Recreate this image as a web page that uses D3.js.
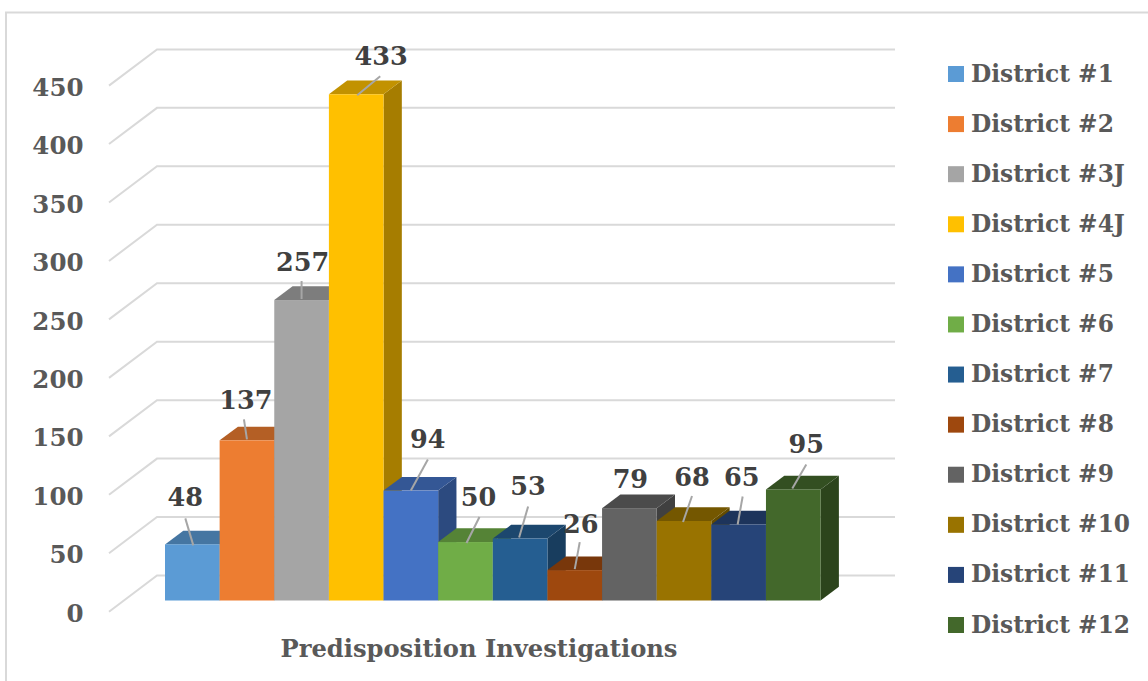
<!DOCTYPE html>
<html>
<head>
<meta charset="utf-8">
<script src="https://cdn.jsdelivr.net/npm/d3@7"></script>
<style>
html,body{margin:0;padding:0;background:#fff}
svg{display:block}
text{font-family:"DejaVu Serif",serif;font-weight:bold}
</style>
</head>
<body>
<div></div>
<script>
const districts = ["District #1","District #2","District #3J","District #4J","District #5","District #6","District #7","District #8","District #9","District #10","District #11","District #12"]
const investigations = [48,137,257,433,94,50,53,26,79,68,65,95]
const barColors = ["#5B9BD5","#ED7D31","#A5A5A5","#FFC000","#4472C4","#70AD47","#255E91","#9E480E","#636363","#997300","#264478","#43682B"]
const yTicks = [0,50,100,150,200,250,300,350,400,450]
const axisTitle = "Predisposition Investigations"

//screen setting (fixed)
const svgWidth = 1148
const svgHeight = 681
const svg = d3.select("div").append("svg").attr("width",svgWidth).attr("height",svgHeight)

function translate(x,y){return `translate(${x}, ${y})`}
function shade(color,k){
    const c = d3.rgb(color)
    return d3.rgb(c.r*k,c.g*k,c.b*k).formatHex()
}
function poly(points){return points.map(p=>p.join(",")).join(" ")}

//chart frame, open on the right and at the bottom
svg.append("path")
    .attr("d","M6,681V12.5H1148")
    .attr("fill","none").attr("stroke","#d9d9d9").attr("stroke-width",2)

const xScale = d3.scaleBand().domain(districts).range([165,820.6])
const yScale = d3.scaleLinear().domain([0,450]).range([600.5,74.4])

//depth of the bars and of the wall behind them
const barDepth = {x:18.3,y:13.7}
const wall = {left:109,corner:157,right:895,front:11.2,back:-25}

//gridlines, run along the floor edge then along the back wall
svg.append("g").attr("id","grid").selectAll("polyline").data(yTicks).join("polyline")
    .attr("points",d=>poly([[wall.left,yScale(d)+wall.front],[wall.corner,yScale(d)+wall.back],[wall.right,yScale(d)+wall.back]]))
    .attr("fill","none").attr("stroke","#d9d9d9").attr("stroke-width",2)

//y axis
const yAxis = d3.axisLeft(yScale).tickValues(yTicks).tickSize(0).tickPadding(0)
svg.append("g").attr("id","yArea").attr("transform",translate(83.5,13)).call(yAxis)
    .call(g=>g.select(".domain").remove())
    .selectAll("text").attr("fill","#595959").attr("font-size",24.5).attr("font-family","DejaVu Serif").attr("font-weight","bold")

//bars, left to right so each one covers the side of the one before
const bars = svg.append("g").attr("id","barArea").selectAll("g").data(districts).join("g").attr("id",(d,i)=>"bar"+i)
bars.each(function(d,i){
    const g = d3.select(this)
    const x0 = xScale(d), x1 = x0+xScale.bandwidth()
    const y0 = yScale(0), y1 = yScale(investigations[i])
    const dx = barDepth.x, dy = barDepth.y
    g.append("polygon").attr("fill",shade(barColors[i],0.65))
        .attr("points",poly([[x1,y1],[x1+dx,y1-dy],[x1+dx,y0-dy],[x1,y0]]))
    g.append("polygon").attr("fill",shade(barColors[i],0.76))
        .attr("points",poly([[x0,y1],[x0+dx,y1-dy],[x1+dx,y1-dy],[x1,y1]]))
    g.append("rect").attr("x",x0).attr("y",y1).attr("width",x1-x0).attr("height",y0-y1).attr("fill",barColors[i])
})

//data labels were dragged off the bars in the original, so they sit at hand placed offsets
const labelShift = [[-7,-47],[-1,-40],[1,-38],[25,-38],[17,-52],[13,-45],[8,-53],[6,-46],[1,-29],[8,-44],[3,-48],[13,-45]]
const leaderFrom = [[1,1],[0,-1],[0,-1],[1,1],[0,0],[1,1],[-1,-1],[0,-1],null,[-1,1],[-1,0],[-1,-1]]
const leaderEnd = [[-7,-26],[-3,-21],[0,-19],[24,-18],[17,-31],[14,-25],[8,-32],[5,-28],null,[8,-25],[4,-28],[13,-25]]

const labels = svg.append("g").attr("id","dataLabels")
districts.forEach(function(d,i){
    const cx = xScale(d)+xScale.bandwidth()/2
    const cy = yScale(investigations[i])
    if(leaderEnd[i]){
        labels.append("line")
            .attr("x1",cx+leaderFrom[i][0]).attr("y1",cy+leaderFrom[i][1])
            .attr("x2",cx+leaderEnd[i][0]).attr("y2",cy+leaderEnd[i][1])
            .attr("stroke","#a6a6a6").attr("stroke-width",2)
    }
    labels.append("text")
        .attr("x",cx+labelShift[i][0]).attr("y",cy+labelShift[i][1])
        .attr("text-anchor","middle").attr("dominant-baseline","central")
        .attr("font-size",25.5).attr("fill","#404040")
        .text(investigations[i])
})

//axis title
svg.append("text").attr("x",479).attr("y",648)
    .attr("text-anchor","middle").attr("dominant-baseline","central")
    .attr("font-size",24.2).attr("fill","#595959")
    .text(axisTitle)

//legend
const legendY = d3.scalePoint().domain(districts).range([74,625])
const legend = svg.append("g").attr("id","legend").selectAll("g").data(districts).join("g")
    .attr("transform",d=>translate(948,legendY(d)))
legend.append("rect").attr("x",0).attr("y",-8).attr("width",16).attr("height",16).attr("fill",(d,i)=>barColors[i])
legend.append("text").attr("x",23).attr("y",-1).attr("dominant-baseline","central")
    .attr("font-size",23.3).attr("fill","#595959").text(d=>d)
</script>
</body>
</html>
